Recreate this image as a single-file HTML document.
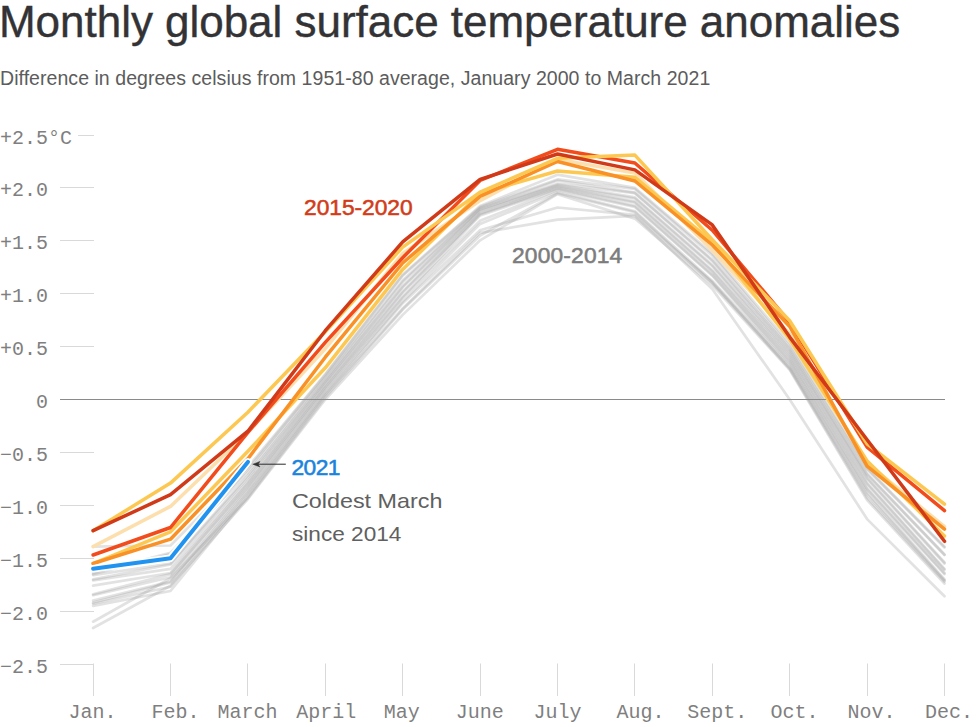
<!DOCTYPE html>
<html><head><meta charset="utf-8"><style>
html,body{margin:0;padding:0;background:#fff;width:980px;height:727px;overflow:hidden;position:relative}
.t{position:absolute;left:-1px;top:0px;font-family:"Liberation Sans",sans-serif;font-size:44px;color:#333336;white-space:nowrap;letter-spacing:-0.03px;line-height:44px;-webkit-text-stroke:0.4px #333336}
.s{position:absolute;left:0;top:66px;font-family:"Liberation Sans",sans-serif;font-size:19.5px;color:#5c5c5c;white-space:nowrap;line-height:24px;letter-spacing:0.05px}
svg{position:absolute;left:0;top:0}
.yl{position:absolute;right:calc(980px - 48px);font-family:"Liberation Mono",monospace;font-size:20px;color:#7f7f7f;line-height:24px;white-space:nowrap;text-align:right}
.ml{position:absolute;top:701px;width:100px;text-align:center;font-family:"Liberation Mono",monospace;font-size:20px;color:#7f7f7f;line-height:24px;white-space:nowrap}
.lab{position:absolute;font-family:"Liberation Sans",sans-serif;white-space:nowrap}
</style></head><body>
<div class="t">Monthly global surface temperature anomalies</div>
<div class="s">Difference in degrees celsius from 1951-80 average, January 2000 to March 2021</div>
<svg width="980" height="727" viewBox="0 0 980 727">
<line x1="78" y1="135.5" x2="94" y2="135.5" stroke="#d9d9d9" stroke-width="1"/>
<line x1="60" y1="187.5" x2="94" y2="187.5" stroke="#d9d9d9" stroke-width="1"/>
<line x1="60" y1="240.5" x2="94" y2="240.5" stroke="#d9d9d9" stroke-width="1"/>
<line x1="60" y1="293.5" x2="94" y2="293.5" stroke="#d9d9d9" stroke-width="1"/>
<line x1="60" y1="346.5" x2="94" y2="346.5" stroke="#d9d9d9" stroke-width="1"/>
<line x1="60" y1="452.5" x2="94" y2="452.5" stroke="#d9d9d9" stroke-width="1"/>
<line x1="60" y1="505.5" x2="94" y2="505.5" stroke="#d9d9d9" stroke-width="1"/>
<line x1="60" y1="558.5" x2="94" y2="558.5" stroke="#d9d9d9" stroke-width="1"/>
<line x1="60" y1="611.5" x2="94" y2="611.5" stroke="#d9d9d9" stroke-width="1"/>
<line x1="60" y1="664.5" x2="94" y2="664.5" stroke="#d9d9d9" stroke-width="1"/>
<line x1="93.5" y1="663.5" x2="93.5" y2="696" stroke="#d9d9d9" stroke-width="1"/>
<line x1="170.5" y1="663.5" x2="170.5" y2="696" stroke="#d9d9d9" stroke-width="1"/>
<line x1="247.5" y1="663.5" x2="247.5" y2="696" stroke="#d9d9d9" stroke-width="1"/>
<line x1="325.5" y1="663.5" x2="325.5" y2="696" stroke="#d9d9d9" stroke-width="1"/>
<line x1="402.5" y1="663.5" x2="402.5" y2="696" stroke="#d9d9d9" stroke-width="1"/>
<line x1="480.5" y1="663.5" x2="480.5" y2="696" stroke="#d9d9d9" stroke-width="1"/>
<line x1="557.5" y1="663.5" x2="557.5" y2="696" stroke="#d9d9d9" stroke-width="1"/>
<line x1="634.5" y1="663.5" x2="634.5" y2="696" stroke="#d9d9d9" stroke-width="1"/>
<line x1="712.5" y1="663.5" x2="712.5" y2="696" stroke="#d9d9d9" stroke-width="1"/>
<line x1="789.5" y1="663.5" x2="789.5" y2="696" stroke="#d9d9d9" stroke-width="1"/>
<line x1="867.5" y1="663.5" x2="867.5" y2="696" stroke="#d9d9d9" stroke-width="1"/>
<line x1="944.5" y1="663.5" x2="944.5" y2="696" stroke="#d9d9d9" stroke-width="1"/>
<polyline points="93.1,546.6 170.5,545.5 247.9,467.2 325.3,374.1 402.7,274.7 480.1,205.9 557.5,174.7 634.9,187.9 712.3,253.5 789.7,343.4 867.1,468.3 944.5,546.6" fill="none" stroke="#969696" stroke-opacity="0.28" stroke-width="2.7" stroke-linejoin="round" stroke-linecap="round"/>
<polyline points="93.1,573.0 170.5,552.9 247.9,469.3 325.3,375.2 402.7,275.7 480.1,206.9 557.5,179.4 634.9,189.0 712.3,255.6 789.7,346.6 867.1,469.3 944.5,547.6" fill="none" stroke="#969696" stroke-opacity="0.28" stroke-width="2.7" stroke-linejoin="round" stroke-linecap="round"/>
<polyline points="93.1,574.1 170.5,554.0 247.9,472.5 325.3,377.3 402.7,280.5 480.1,208.0 557.5,180.5 634.9,192.7 712.3,259.8 789.7,348.7 867.1,473.6 944.5,554.5" fill="none" stroke="#969696" stroke-opacity="0.28" stroke-width="2.7" stroke-linejoin="round" stroke-linecap="round"/>
<polyline points="93.1,575.1 170.5,563.5 247.9,475.7 325.3,379.4 402.7,282.1 480.1,209.1 557.5,183.7 634.9,193.2 712.3,260.9 789.7,350.8 867.1,474.6 944.5,555.0" fill="none" stroke="#969696" stroke-opacity="0.28" stroke-width="2.7" stroke-linejoin="round" stroke-linecap="round"/>
<polyline points="93.1,579.4 170.5,564.5 247.9,477.8 325.3,381.5 402.7,286.3 480.1,210.1 557.5,184.7 634.9,197.4 712.3,265.1 789.7,352.9 867.1,477.8 944.5,562.4" fill="none" stroke="#969696" stroke-opacity="0.28" stroke-width="2.7" stroke-linejoin="round" stroke-linecap="round"/>
<polyline points="93.1,580.4 170.5,568.8 247.9,481.0 325.3,382.6 402.7,287.4 480.1,211.2 557.5,185.8 634.9,198.5 712.3,266.2 789.7,355.1 867.1,478.9 944.5,563.5" fill="none" stroke="#969696" stroke-opacity="0.28" stroke-width="2.7" stroke-linejoin="round" stroke-linecap="round"/>
<polyline points="93.1,585.7 170.5,573.0 247.9,483.1 325.3,384.7 402.7,291.6 480.1,213.3 557.5,186.8 634.9,201.7 712.3,270.4 789.7,357.2 867.1,483.1 944.5,568.8" fill="none" stroke="#969696" stroke-opacity="0.28" stroke-width="2.7" stroke-linejoin="round" stroke-linecap="round"/>
<polyline points="93.1,594.2 170.5,574.1 247.9,485.2 325.3,386.8 402.7,292.6 480.1,214.3 557.5,187.9 634.9,202.7 712.3,271.5 789.7,359.3 867.1,484.1 944.5,569.8" fill="none" stroke="#969696" stroke-opacity="0.28" stroke-width="2.7" stroke-linejoin="round" stroke-linecap="round"/>
<polyline points="93.1,595.2 170.5,577.2 247.9,487.3 325.3,387.9 402.7,296.9 480.1,215.4 557.5,189.0 634.9,205.9 712.3,274.7 789.7,361.4 867.1,488.4 944.5,573.0" fill="none" stroke="#969696" stroke-opacity="0.28" stroke-width="2.7" stroke-linejoin="round" stroke-linecap="round"/>
<polyline points="93.1,600.5 170.5,581.5 247.9,489.4 325.3,390.0 402.7,297.9 480.1,220.7 557.5,190.0 634.9,206.9 712.3,275.7 789.7,363.5 867.1,489.4 944.5,574.1" fill="none" stroke="#969696" stroke-opacity="0.28" stroke-width="2.7" stroke-linejoin="round" stroke-linecap="round"/>
<polyline points="93.1,602.6 170.5,582.5 247.9,492.1 325.3,392.1 402.7,301.6 480.1,223.9 557.5,192.1 634.9,211.2 712.3,281.0 789.7,365.6 867.1,492.6 944.5,579.4" fill="none" stroke="#969696" stroke-opacity="0.28" stroke-width="2.7" stroke-linejoin="round" stroke-linecap="round"/>
<polyline points="93.1,603.7 170.5,586.8 247.9,493.7 325.3,394.2 402.7,303.2 480.1,230.2 557.5,207.5 634.9,214.9 712.3,282.1 789.7,367.8 867.1,494.7 944.5,580.4" fill="none" stroke="#969696" stroke-opacity="0.28" stroke-width="2.7" stroke-linejoin="round" stroke-linecap="round"/>
<polyline points="93.1,605.8 170.5,591.0 247.9,496.3 325.3,395.3 402.7,308.5 480.1,232.9 557.5,219.6 634.9,215.9 712.3,288.9 789.7,399.5 867.1,519.1 944.5,596.3" fill="none" stroke="#969696" stroke-opacity="0.28" stroke-width="2.7" stroke-linejoin="round" stroke-linecap="round"/>
<polyline points="93.1,621.7 170.5,578.3 247.9,497.9 325.3,397.4 402.7,309.6 480.1,235.5 557.5,193.2 634.9,212.2 712.3,283.1 789.7,368.8 867.1,497.9 944.5,581.5" fill="none" stroke="#969696" stroke-opacity="0.28" stroke-width="2.7" stroke-linejoin="round" stroke-linecap="round"/>
<polyline points="93.1,628.0 170.5,585.7 247.9,499.0 325.3,399.5 402.7,314.9 480.1,240.3 557.5,194.2 634.9,218.6 712.3,285.2 789.7,369.9 867.1,500.0 944.5,583.6" fill="none" stroke="#969696" stroke-opacity="0.28" stroke-width="2.7" stroke-linejoin="round" stroke-linecap="round"/>
<line x1="60" y1="399.5" x2="945" y2="399.5" stroke="#8a8a8a" stroke-width="1"/>
<polyline points="93.1,546.6 170.5,506.4 247.9,432.3 325.3,348.7 402.7,253.5 480.1,200.6 557.5,159.3 634.9,173.1 712.3,250.3 789.7,333.9 867.1,463.0 944.5,526.5" fill="none" stroke="#fddfae" stroke-width="3.5" stroke-linejoin="round" stroke-linecap="round"/>
<polyline points="93.1,563.5 170.5,531.8 247.9,451.3 325.3,367.8 402.7,269.4 480.1,193.2 557.5,171.0 634.9,177.3 712.3,241.9 789.7,339.2 867.1,460.9 944.5,536.0" fill="none" stroke="#fdc851" stroke-width="3.5" stroke-linejoin="round" stroke-linecap="round"/>
<polyline points="93.1,555.0 170.5,527.5 247.9,432.3 325.3,342.4 402.7,257.7 480.1,180.5 557.5,149.3 634.9,163.0 712.3,230.2 789.7,322.3 867.1,447.1 944.5,510.6" fill="none" stroke="#f24b1c" stroke-width="3.5" stroke-linejoin="round" stroke-linecap="round"/>
<polyline points="93.1,563.5 170.5,539.2 247.9,458.7 325.3,357.2 402.7,263.0 480.1,196.4 557.5,161.5 634.9,181.0 712.3,245.0 789.7,326.5 867.1,466.2 944.5,529.1" fill="none" stroke="#f99126" stroke-width="3.5" stroke-linejoin="round" stroke-linecap="round"/>
<polyline points="93.1,530.7 170.5,483.1 247.9,412.2 325.3,331.8 402.7,247.1 480.1,192.1 557.5,158.3 634.9,155.1 712.3,239.7 789.7,320.7 867.1,443.9 944.5,504.2" fill="none" stroke="#fdc851" stroke-width="3.5" stroke-linejoin="round" stroke-linecap="round"/>
<polyline points="93.1,530.7 170.5,494.7 247.9,431.2 325.3,330.7 402.7,241.9 480.1,179.4 557.5,154.0 634.9,169.9 712.3,224.9 789.7,337.1 867.1,439.7 944.5,541.3" fill="none" stroke="#d03a18" stroke-width="3.5" stroke-linejoin="round" stroke-linecap="round"/>
<polyline points="93.1,568.8 170.5,558.2 247.9,461.9" fill="none" stroke="#fff" stroke-width="7.5" stroke-linejoin="round" stroke-linecap="round"/>
<polyline points="93.1,568.8 170.5,558.2 247.9,461.9" fill="none" stroke="#1f93ef" stroke-width="4" stroke-linejoin="round" stroke-linecap="round"/>
<line x1="256" y1="464.2" x2="285.8" y2="464.2" stroke="#333" stroke-width="1.05"/>
<path d="M252.6,464.2 L260,461.4 L258.2,464.2 L260,467 Z" fill="#333" stroke="#333" stroke-width="0.4" stroke-linejoin="round"/>
</svg>
<div class="yl" style="top:126.5px">+2.5</div>
<div class="yl" style="top:179.4px">+2.0</div>
<div class="yl" style="top:232.3px">+1.5</div>
<div class="yl" style="top:285.2px">+1.0</div>
<div class="yl" style="top:338.1px">+0.5</div>
<div class="yl" style="top:391.0px">0</div>
<div class="yl" style="top:443.9px">−0.5</div>
<div class="yl" style="top:496.8px">−1.0</div>
<div class="yl" style="top:549.7px">−1.5</div>
<div class="yl" style="top:602.6px">−2.0</div>
<div class="yl" style="top:655.5px">−2.5</div>
<div class="yl" style="top:126.5px;right:auto;left:48px">&#176;C</div>
<div class="ml" style="left:42.6px">Jan.</div>
<div class="ml" style="left:125.5px">Feb.</div>
<div class="ml" style="left:197.4px">March</div>
<div class="ml" style="left:276.3px">April</div>
<div class="ml" style="left:351.7px">May</div>
<div class="ml" style="left:429.7px">June</div>
<div class="ml" style="left:507.5px">July</div>
<div class="ml" style="left:590.4px">Aug.</div>
<div class="ml" style="left:667.3px">Sept.</div>
<div class="ml" style="left:744.5px">Oct.</div>
<div class="ml" style="left:821.5px">Nov.</div>
<div class="ml" style="left:898.9px">Dec.</div>
<div class="lab" style="left:304px;top:193.8px;font-size:22.8px;color:#d23c19;line-height:26px;letter-spacing:-0.05px;-webkit-text-stroke:0.55px #d23c19">2015-2020</div>
<div class="lab" style="left:512px;top:242px;font-size:22.8px;color:#7c7c7c;line-height:26px;letter-spacing:0.15px;-webkit-text-stroke:0.55px #7c7c7c">2000-2014</div>
<div class="lab" style="left:291.5px;top:454px;font-size:22.8px;color:#1a84dd;line-height:26px;letter-spacing:-0.6px;-webkit-text-stroke:0.55px #1a84dd">2021</div>
<div class="lab" style="left:292px;top:485px;font-size:20.3px;color:#606060;line-height:33px;transform:scaleX(1.15);transform-origin:0 0">Coldest March</div>
<div class="lab" style="left:292px;top:518px;font-size:20.3px;color:#606060;line-height:33px;transform:scaleX(1.115);transform-origin:0 0">since 2014</div>
</body></html>
